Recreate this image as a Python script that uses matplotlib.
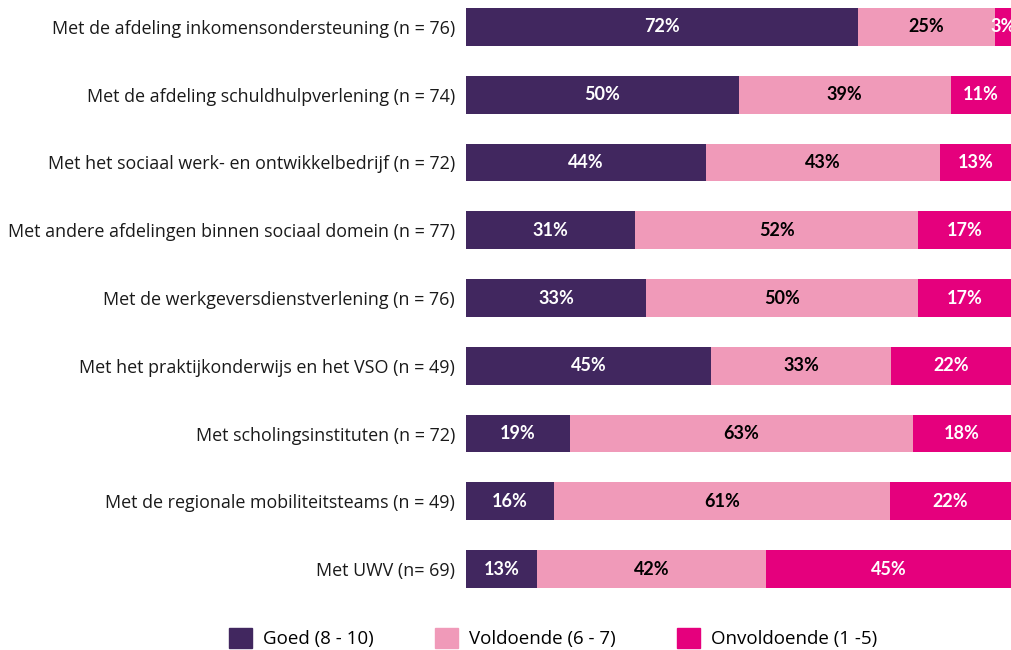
import matplotlib
matplotlib.use("Agg")

import numpy as np
import matplotlib.pyplot as plt
from matplotlib.patches import Patch

categories = [
    "Met de afdeling inkomensondersteuning (n = 76)",
    "Met de afdeling schuldhulpverlening (n = 74)",
    "Met het sociaal werk- en ontwikkelbedrijf (n = 72)",
    "Met andere afdelingen binnen sociaal domein (n = 77)",
    "Met de werkgeversdienstverlening (n = 76)",
    "Met het praktijkonderwijs en het VSO (n = 49)",
    "Met scholingsinstituten (n = 72)",
    "Met de regionale mobiliteitsteams (n = 49)",
    "Met UWV (n= 69)",
]
goed = [72, 50, 44, 31, 33, 45, 19, 16, 13]
voldoende = [25, 39, 43, 52, 50, 33, 63, 61, 42]
onvoldoende = [3, 11, 13, 17, 17, 22, 18, 22, 45]

series = ["Goed (8 - 10)", "Voldoende (6 - 7)", "Onvoldoende (1 -5)"]
colors = ["#41275f", "#f09ab9", "#e5007d"]
text_colors = ["white", "black", "white"]

plt.rcParams["font.family"] = ["Open Sans", "DejaVu Sans"]

values = np.array([goed, voldoende, onvoldoende], dtype=float)
shares = values / values.sum(axis=0) * 100  # bars fill the full width

fig = plt.figure(figsize=(10.11, 6.5), dpi=100)
ax = fig.add_axes([466 / 1011, 62 / 650, 545 / 1011, 580 / 650])

y = np.arange(len(categories))
h = 0.56
left = np.zeros(len(categories))
for k in range(3):
    ax.barh(y, shares[k], left=left, height=h, color=colors[k], label=series[k])
    for i in range(len(categories)):
        ax.text(left[i] + shares[k][i] / 2, y[i], f"{int(values[k][i])}%",
                ha="center", va="center", color=text_colors[k],
                fontsize=13, fontweight="bold", family=["Lato", "DejaVu Sans"])
    left += shares[k]

ax.set_xlim(0, 100)
ax.set_ylim(len(categories) - 1 + h / 2, -h / 2)
ax.set_yticks(y)
ax.set_yticklabels(categories, fontsize=12.9, color="#1a1a1a")
ax.tick_params(axis="y", length=0, pad=8)
ax.set_xticks([])
for s in ax.spines.values():
    s.set_visible(False)

handles = [Patch(color=c) for c in colors]
fig.legend(handles, series, loc="center", bbox_to_anchor=(553 / 1011, 1 - 638 / 650),
           ncol=3, frameon=False, fontsize=13.5, handlelength=1.2, handleheight=1.3,
           handletextpad=0.6, columnspacing=3.28, borderpad=0)

fig.savefig("out.png", dpi=100)
